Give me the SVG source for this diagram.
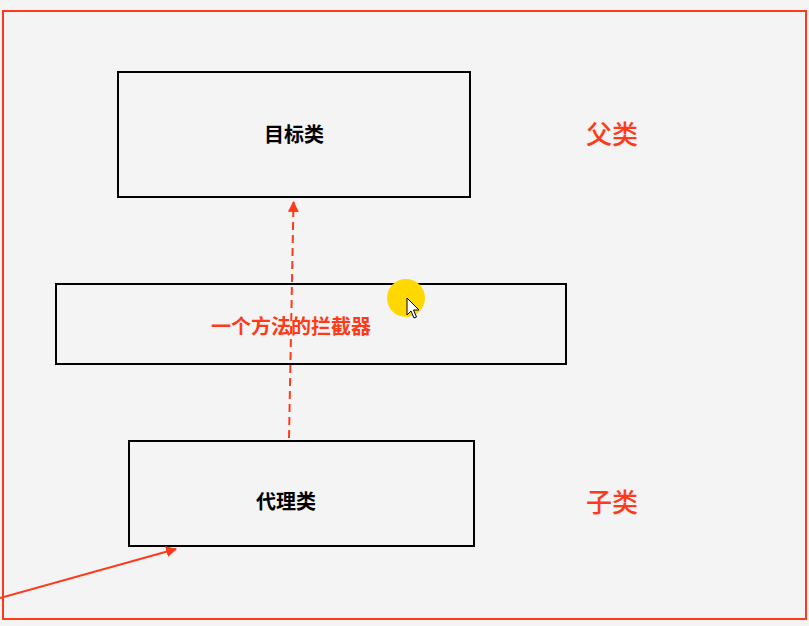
<svg xmlns="http://www.w3.org/2000/svg" width="809" height="626" viewBox="0 0 809 626">
<defs>
<style>
.box{fill:none;stroke:#000;stroke-width:2}
.lbl{font-family:"Noto Sans CJK SC","Noto Sans",sans-serif;font-weight:700;font-size:20px;fill:#000;text-anchor:middle;dominant-baseline:central}
.red{font-family:"Noto Sans CJK SC","Noto Sans",sans-serif;font-weight:600;fill:#ff3a1a;text-anchor:middle;dominant-baseline:central}
.side{font-weight:500}
.conn{stroke:#ff3a1a;stroke-width:2;fill:none}
</style>
<marker id="ah" viewBox="0 0 10 10" refX="9" refY="5" markerWidth="5.5" markerHeight="5.5" orient="auto" markerUnits="strokeWidth">
<path d="M0,0 L10,5 L0,10 Z" fill="#ff3a1a"/>
</marker>
</defs>
<rect x="0" y="0" width="809" height="626" fill="#f4f4f4"/>
<rect id="frame" x="3" y="11" width="803" height="608" fill="none" stroke="#ff3a1a" stroke-width="2"/>
<g id="target">
<rect class="box" x="118" y="72" width="352" height="125"/>
<text class="lbl" x="294" y="133.5">目标类</text>
</g>
<g id="interceptor">
<rect class="box" x="56" y="284" width="510" height="80"/>
<text class="red" x="291" y="325" font-size="20">一个方法的拦截器</text>
</g>
<g id="proxy">
<rect class="box" x="129" y="441" width="345" height="105"/>
<text class="lbl" x="286" y="500.5">代理类</text>
</g>
<g id="parent-label"><text class="red side" x="612" y="132.5" font-size="26">父类</text></g>
<g id="child-label"><text class="red side" x="612" y="500" font-size="26">子类</text></g>
<g id="connectors">
<line class="conn" x1="289" y1="438" x2="293.5" y2="202" stroke-dasharray="8,5" marker-end="url(#ah)"/>
<line class="conn" x1="0" y1="598" x2="176" y2="549" marker-end="url(#ah)"/>
</g>
<g id="cursor">
<circle cx="406" cy="298" r="19" fill="#ffd800"/>
<path d="M407,298 L407,315 L411,311 L414,318 L416.5,317 L413.5,310 L419,310 Z" fill="#fff" stroke="#000" stroke-width="1" stroke-linejoin="round"/>
</g>
</svg>
